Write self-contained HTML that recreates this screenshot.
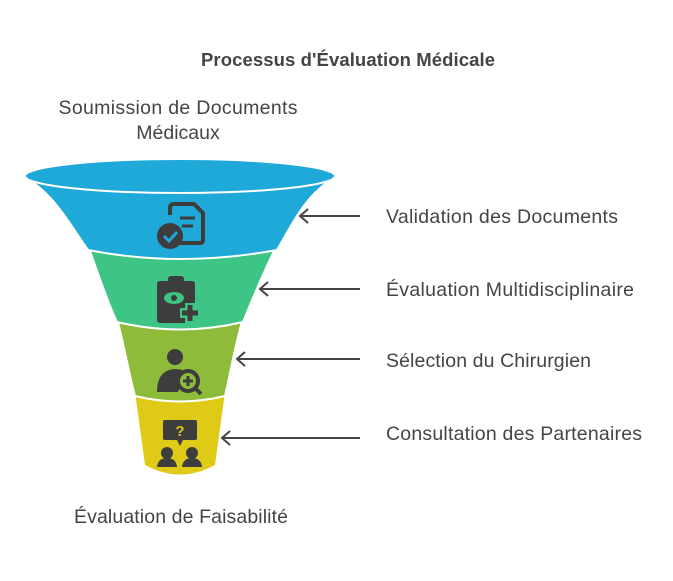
<!DOCTYPE html>
<html><head><meta charset="utf-8"><style>
body{margin:0;background:#fff;}
svg text{font-family:"Liberation Sans",sans-serif;}
</style></head><body>
<svg width="673" height="576" viewBox="0 0 673 576" xmlns="http://www.w3.org/2000/svg">
<text x="348" y="66" text-anchor="middle" font-size="18.5" font-weight="bold" fill="#444" textLength="294">Processus d'Évaluation Médicale</text>
<text x="178" y="114" text-anchor="middle" font-size="19.5" fill="#444" textLength="239">Soumission de Documents</text>
<text x="178" y="139" text-anchor="middle" font-size="19.5" fill="#444">Médicaux</text>
<text x="181" y="523" text-anchor="middle" font-size="19.5" fill="#444" textLength="214">Évaluation de Faisabilité</text>

<path d="M135,392 L145,465 Q180,484 215,465 L225,392Z" fill="#dfcb17"/>
<path d="M117,318 C125,350 130,378 135,396 Q180,407 225,396 C230,375 235,345 243,318Z" fill="#8fbb3a" stroke="#fff" stroke-width="2"/>
<path d="M88,245 C100,280 110,308 117,322 Q180,337 243,322 C250,305 262,275 277,245Z" fill="#3ec484" stroke="#fff" stroke-width="2"/>
<path d="M26,178 C55,195 70,225 88,250 Q180,268 277,250 C292,225 305,195 334,178Z" fill="#1fa9d9" stroke="#fff" stroke-width="2"/>
<ellipse cx="180" cy="176" rx="155" ry="17" fill="#1fa9d9" stroke="#fff" stroke-width="2"/>

<g fill="#3d3d3d" stroke="#3d3d3d">
 <path d="M170,215 V208 Q170,204 174,204 H194 L203,213 V240 Q203,243 200,243 H180" fill="none" stroke-width="4"/>
 <path d="M180,218 H195 M182,226 H193" stroke-width="3"/>
 <circle cx="170" cy="236" r="13" stroke="none"/>
 <path d="M164,236 L169,241 L177,232" fill="none" stroke="#1fa9d9" stroke-width="3"/>
 <rect x="157" y="281" width="38" height="42" rx="3" stroke="none"/>
 <rect x="168" y="276" width="16" height="8" rx="3" stroke="none"/>
 <ellipse cx="174" cy="298" rx="10" ry="6" fill="#3ec484" stroke="none"/>
 <circle cx="174" cy="298" r="3" stroke="none"/>
 <path d="M190,303 V323 M180,313 H200" stroke="#3ec484" stroke-width="10"/>
 <path d="M190,305 V321 M182,313 H198" stroke-width="5"/>
 <circle cx="175" cy="357" r="8" stroke="none"/>
 <path d="M157,392 Q157,370 175,369 Q182,369 186,372 L178,392Z" stroke="none"/>
 <circle cx="188" cy="381" r="10" fill="#8fbb3a" stroke-width="4"/>
 <path d="M183,381 H193 M188,376 V386" stroke-width="3"/>
 <path d="M195,388 L201,394" stroke-width="4"/>
 <rect x="163" y="420" width="34" height="20" rx="2" stroke="none"/>
 <path d="M177,440 L180,446 L183,440Z" stroke="none"/>
 <text x="180" y="436" text-anchor="middle" font-size="15" font-weight="bold" fill="#dfcb17" stroke="none">?</text>
 <circle cx="167" cy="453" r="6" stroke="none"/>
 <circle cx="192" cy="453" r="6" stroke="none"/>
 <path d="M157,467 Q158,458 167,458 Q176,458 177,467Z M182,467 Q183,458 192,458 Q201,458 202,467Z" stroke="none"/>
</g>

<g stroke="#444" stroke-width="2" fill="none">
 <path d="M360,216 H300 M308,209 L300,216 L308,223"/>
 <path d="M360,289 H260 M268,282 L260,289 L268,296"/>
 <path d="M360,359 H237 M245,352 L237,359 L245,366"/>
 <path d="M360,438 H222 M230,431 L222,438 L230,445"/>
</g>
<g font-size="19.5" fill="#444">
 <text x="386" y="223" textLength="232">Validation des Documents</text>
 <text x="386" y="296" textLength="248">Évaluation Multidisciplinaire</text>
 <text x="386" y="367" textLength="205">Sélection du Chirurgien</text>
 <text x="386" y="440" textLength="256">Consultation des Partenaires</text>
</g>
</svg>
</body></html>
